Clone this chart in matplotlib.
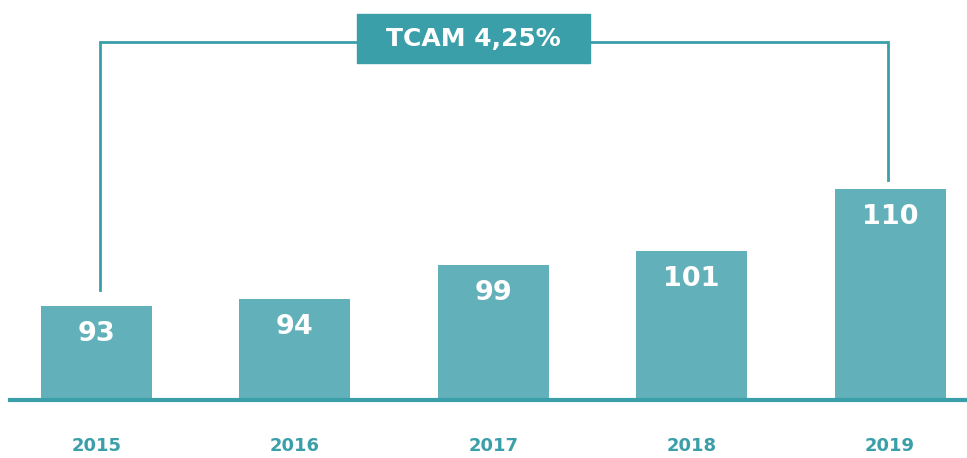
import matplotlib
matplotlib.use("Agg")
import matplotlib.pyplot as plt
from matplotlib.patches import Rectangle

years = ["2015", "2016", "2017", "2018", "2019"]
values = [93, 94, 99, 101, 110]
cagr_label = "TCAM 4,25%"

BAR = "#62b1ba"
DARK = "#3a9fa8"
FONT = "DejaVu Sans"

W, H = 967, 458
fig = plt.figure(figsize=(W / 100, H / 100), dpi=100)
fig.patch.set_facecolor("white")
base_px = 58
ax = fig.add_axes([0, base_px / H, 1, (H - base_px) / H])
step = 198.4
x0 = 96.5
ax.set_xlim(-x0 / step, (W - x0) / step)
ymin = 79.33
ppu = 6.88
ax.set_ylim(ymin, ymin + (H - base_px) / ppu)
ax.axis("off")

xs = list(range(len(years)))
ax.bar(xs, values, width=0.56, color=BAR, zorder=2)

# baseline
ax.axhline(ymin, xmin=10 / W, xmax=1, color=DARK, lw=3, zorder=3, clip_on=False)

for x, v, yr in zip(xs, values, years):
    ax.text(x, v - 28 / ppu, str(v), ha="center", va="center", color="white",
            fontsize=19.5, fontweight="bold", family=FONT, zorder=4)
    ax.text(x, ymin - 46 / ppu, yr, ha="center", va="center", color=DARK,
            fontsize=13, fontweight="bold", family=FONT, clip_on=False)

# bracket
top = ymin + (400 - 42) / ppu
lx, rx = xs[0] + 3.5 / step, xs[-1] - 2 / step
ax.plot([lx, lx, rx, rx], [values[0] + 16 / ppu, top, top, values[-1] + 9 / ppu],
        color=DARK, lw=2, zorder=1, solid_joinstyle="miter")

bx0 = (357 - x0) / step
bx1 = (590 - x0) / step
by0 = ymin + (400 - 63) / ppu
by1 = ymin + (400 - 14) / ppu
ax.add_patch(Rectangle((bx0, by0), bx1 - bx0, by1 - by0, color=DARK, zorder=5, clip_on=False))
ax.text((bx0 + bx1) / 2, (by0 + by1) / 2, cagr_label, ha="center", va="center",
        color="white", fontsize=18, fontweight="bold", family=FONT, zorder=6)

fig.savefig("out.png", dpi=100, facecolor="white")
